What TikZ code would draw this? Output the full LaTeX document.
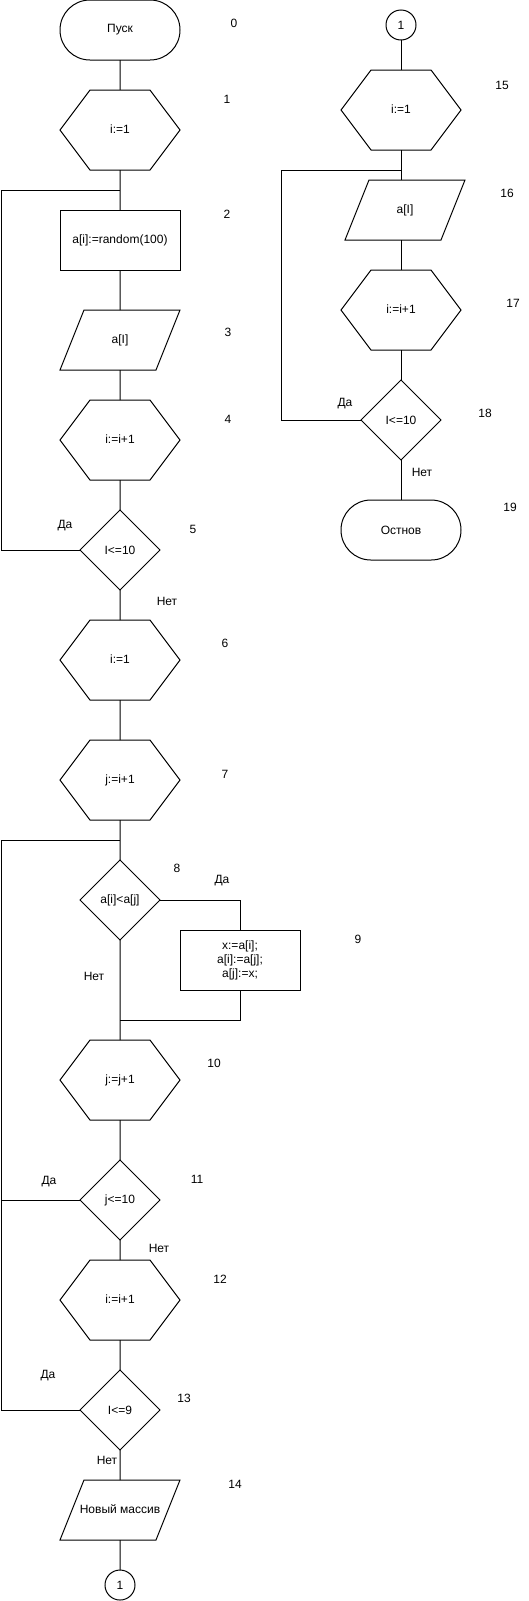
\documentclass[tikz,border=0pt]{standalone}
\usepackage{fontspec}
\setmainfont{Liberation Sans}
\usetikzlibrary{positioning, shapes.geometric, shapes.symbols}
\tikzset{
  flownode/.style = {draw, align=center, inner sep=0pt, outer sep=0pt,
                     font=\fontsize{12}{14}\selectfont},
  term/.style     = {flownode, shape=rectangle, rounded corners=29.9pt,
                     minimum width=120pt, minimum height=60pt},
  hexa/.style     = {flownode, shape=signal, signal to=east and west,
                     signal pointer angle=106.26,
                     text height=8.6pt, text depth=2.4pt, inner ysep=34.5pt,
                     minimum width=120pt},
  proc/.style     = {flownode, shape=rectangle,
                     minimum width=120pt, minimum height=60pt},
  io/.style       = {flownode, shape=trapezium, trapezium left angle=68.2,
                     trapezium right angle=111.8, trapezium stretches body,
                     text height=8.6pt, text depth=2.4pt, inner ysep=24.5pt,
                     inner xsep=-6pt, minimum width=120pt},
  decis/.style    = {flownode, shape=diamond, aspect=1,
                     minimum width=80pt, minimum height=80pt},
  conn/.style     = {flownode, shape=circle, minimum size=30pt},
  note/.style     = {font=\fontsize{12}{14}\selectfont, inner sep=0pt}
}

\begin{document}
\begin{tikzpicture}
  [
    x = 1pt, y = -1pt,
    line width = 1pt,
    node distance = 30pt
  ]
  \useasboundingbox (0,0) rectangle (528,1601);
  \coordinate (lx) at (1,0);
  \coordinate (rx) at (281,0);
  % left column
  \node [term] (start) at (120,30) {Пуск};
  \node [hexa, below=of start] (init) {i:=1};
  \node [proc, below=40pt of init] (fill) {a[i]:=random(100)};
  \node [io, below=40pt of fill] (out1) {a[I]};
  \node [hexa, below=of out1] (inc1) {i:=i+1};
  \node [decis, below=of inc1] (chk1) {I<=10};
  \node [hexa, below=of chk1] (iset) {i:=1};
  \node [hexa, below=40pt of iset] (jset) {j:=i+1};
  \node [decis, below=40pt of jset] (cmp) {a[i]<a[j]};
  \node [proc, minimum height=60pt] (swap) at (240,960) {x:=a[i];\\ a[i]:=a[j];\\ a[j]:=x;};
  \node [hexa, below=100pt of cmp] (jinc) {j:=j+1};
  \node [decis, below=40pt of jinc] (chkj) {j<=10};
  \node [hexa, below=20pt of chkj] (iinc) {i:=i+1};
  \node [decis, below=of iinc] (chki) {I<=9};
  \node [io, below=of chki] (res) {Новый массив};
  \node [conn, below=of res] (off1) {1};
  % right column
  \node [conn] (off2) at (401,25) {1};
  \node [hexa, below=of off2] (init2) {i:=1};
  \node [io, below=of init2, xshift=4pt] (out2) {a[I]};
  \node [hexa, below=of out2, xshift=-4pt] (inc2) {i:=i+1};
  \node [decis, below=of inc2] (chk2) {I<=10};
  \node [term, below=40pt of chk2] (stop) {Остнов};
  \coordinate [below=20pt of init] (j1);
  \coordinate [below=20pt of jset] (j2);
  \coordinate [above=20pt of jinc] (j3);
  \coordinate [below=20pt of init2] (j4);
  % connectors
  \draw (start) -- (init) -- (fill) -- (out1) -- (inc1) -- (chk1) -- (iset)
        -- (jset) -- (cmp) -- (jinc) -- (chkj) -- (iinc) -- (chki) -- (res) -- (off1);
  \draw (chk1.west) -- (chk1.west -| lx) |- (j1);
  \draw (cmp.east) -| (swap.north);
  \draw (swap.south) |- (j3);
  \draw (j2) -| (lx |- chki) -- (chki.west);
  \draw (chkj.west) -- (chkj.west -| lx);
  \draw (off2) -- (init2) -- (init2 |- out2.north);
  \draw (out2.south -| inc2) -- (inc2) -- (chk2) -- (stop);
  \draw (chk2.west) -- (chk2.west -| rx) |- (j4);
  % labels
  \node [note] at (65,526) {Да};
  \node [note] at (167,601) {Нет};
  \node [note] at (222,881) {Да};
  \node [note] at (94,976) {Нет};
  \node [note] at (49,1182) {Да};
  \node [note] at (159,1248) {Нет};
  \node [note] at (48,1376) {Да};
  \node [note] at (107,1460) {Нет};
  \node [note] at (345,404) {Да};
  \node [note] at (422,472) {Нет};
  % step numbers
  \node [note] at (234,23) {0};
  \node [note] at (227,99) {1};
  \node [note] at (227,214) {2};
  \node [note] at (228,332) {3};
  \node [note] at (228,419) {4};
  \node [note] at (193,529) {5};
  \node [note] at (225,643) {6};
  \node [note] at (225,774) {7};
  \node [note] at (177,868) {8};
  \node [note] at (358,939) {9};
  \node [note] at (214,1063) {10};
  \node [note] at (197,1179) {11};
  \node [note] at (220,1279) {12};
  \node [note] at (184,1398) {13};
  \node [note] at (235,1484) {14};
  \node [note] at (502,85) {15};
  \node [note] at (507,193) {16};
  \node [note] at (513,303) {17};
  \node [note] at (485,413) {18};
  \node [note] at (510,507) {19};
\end{tikzpicture}
\end{document}
